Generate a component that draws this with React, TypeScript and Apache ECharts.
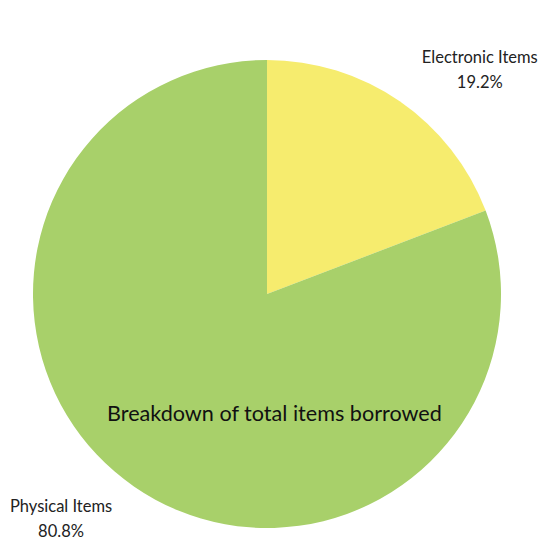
import React, { useEffect, useRef } from "react";
import * as echarts from "echarts";

const categories = ["Electronic Items", "Physical Items"];
const values = [19.2, 80.8];
const colors = ["#F6EC6E", "#A8D06A"];
const titleText = "Breakdown of total items borrowed";

export default function App() {
  const ref = useRef<HTMLDivElement>(null);
  useEffect(() => {
    if (!ref.current) return;
    const chart = echarts.init(ref.current, null, { renderer: "svg" });
    chart.setOption({
      animation: false,
      backgroundColor: "#ffffff",
      textStyle: { fontFamily: "Lato" },
      title: {
        text: titleText,
        left: 102,
        top: 397,
        textStyle: { fontFamily: "Lato", fontSize: 21.6, fontWeight: "normal", color: "#111111" },
      },
      series: [
        {
          type: "pie",
          center: [267, 294],
          radius: [0, 234],
          startAngle: 90,
          clockwise: true,
          data: categories.map((c, i) => ({ name: c, value: values[i], itemStyle: { color: colors[i] } })),
          label: {
            show: true,
            position: "outside",
            bleedMargin: 0,
            overflow: "none",
            formatter: (p: any) => `{a|${p.name}}\n{a|${p.value.toFixed(1)}%}`,
            rich: {
              a: { fontFamily: "Lato", fontSize: 16.5, color: "#222222", align: "center", lineHeight: 25 },
            },
          },
          labelLine: { show: false, length: 39, length2: -5 },
          emphasis: { disabled: true },
        },
      ],
    });
    return () => chart.dispose();
  }, []);
  return (
    <div
      ref={ref}
      style={{ position: "fixed", left: 0, top: 0, width: 542, height: 540 }}
    />
  );
}
